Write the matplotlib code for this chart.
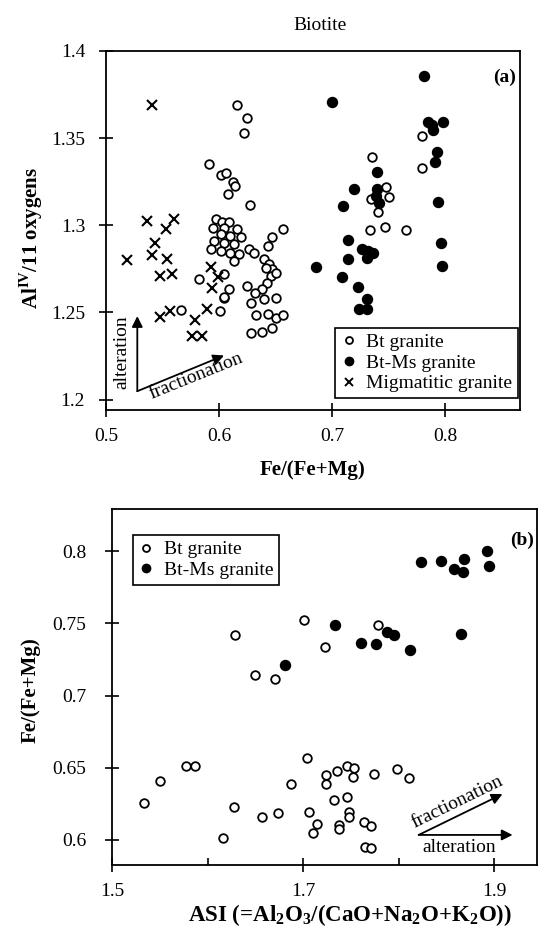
import numpy as np
import matplotlib
matplotlib.use("Agg")
import matplotlib.pyplot as plt
from matplotlib.lines import Line2D

plt.rcParams['font.family'] = ['Liberation Serif', 'DejaVu Serif']
plt.rcParams['mathtext.fontset'] = 'custom'
plt.rcParams['mathtext.rm'] = 'Liberation Serif'
plt.rcParams['mathtext.bf'] = 'Liberation Serif:bold'

# ---- panel (a): biotite AlIV vs Fe/(Fe+Mg)
bt_a_x = [0.616, 0.6245, 0.622, 0.591, 0.602, 0.606, 0.6127, 0.614, 0.608, 0.627,
          0.597, 0.603, 0.609, 0.5947, 0.6044, 0.616, 0.6014, 0.610, 0.619, 0.5956,
          0.6044, 0.613, 0.5926, 0.6014, 0.610, 0.6265, 0.631, 0.6177, 0.613,
          0.647, 0.6566, 0.6435, 0.6398, 0.644, 0.647, 0.6413, 0.6457, 0.650, 0.6428,
          0.638, 0.632, 0.625, 0.628, 0.6398, 0.650, 0.633, 0.6436, 0.6507, 0.6566,
          0.628, 0.6383, 0.6465, 0.6006, 0.582, 0.6088, 0.6044, 0.566, 0.6044, 0.604,
          0.7793, 0.735, 0.7793, 0.7474, 0.7504, 0.7342, 0.7407, 0.7333, 0.7466, 0.7652]
bt_a_y = [1.369, 1.3615, 1.353, 1.335, 1.329, 1.330, 1.325, 1.3226, 1.318, 1.3115,
          1.3034, 1.3016, 1.3016, 1.2987, 1.2987, 1.2977, 1.2948, 1.2939, 1.293, 1.291,
          1.290, 1.289, 1.2862, 1.2853, 1.2843, 1.2862, 1.2843, 1.2833, 1.2795,
          1.2935, 1.298, 1.288, 1.2805, 1.2776, 1.2747, 1.2757, 1.2709, 1.2728, 1.2671,
          1.2632, 1.2613, 1.2651, 1.2555, 1.2575, 1.2584, 1.2483, 1.2493, 1.247, 1.2483,
          1.238, 1.2387, 1.2412, 1.2508, 1.269, 1.2632, 1.2584, 1.2513, 1.2718, 1.259,
          1.3513, 1.3389, 1.3326, 1.322, 1.3163, 1.3153, 1.3077, 1.2971, 1.299, 1.2971]

btms_a_x = [0.7814, 0.6997, 0.7843, 0.7881, 0.7894, 0.7982, 0.7923, 0.7912, 0.7395, 0.7195,
            0.740, 0.7387, 0.7416, 0.7097, 0.7932, 0.7961, 0.7142, 0.7268, 0.732, 0.7357,
            0.7312, 0.7142, 0.6855, 0.7967, 0.709, 0.7224, 0.7312, 0.7239, 0.7312]
btms_a_y = [1.3855, 1.3709, 1.359, 1.3575, 1.3548, 1.3594, 1.3421, 1.3364, 1.3303, 1.3207,
            1.3207, 1.3168, 1.313, 1.3111, 1.3136, 1.29, 1.2914, 1.2866, 1.2852, 1.2843,
            1.2814, 1.2809, 1.276, 1.2766, 1.2705, 1.2648, 1.2575, 1.2521, 1.2521]

mig_x = [0.5404, 0.5366, 0.560, 0.5528, 0.5434, 0.5189, 0.541, 0.5543, 0.548, 0.558,
         0.5926, 0.5994, 0.594, 0.5897, 0.557, 0.548, 0.5785, 0.5757, 0.5846]
mig_y = [1.369, 1.3025, 1.3038, 1.2977, 1.290, 1.280, 1.2828, 1.2805, 1.2709, 1.2718,
         1.276, 1.2705, 1.2638, 1.252, 1.2511, 1.2473, 1.2456, 1.2364, 1.2364]

# ---- panel (b): Fe/(Fe+Mg) vs ASI
bt_b_x = [1.628, 1.649, 1.670, 1.701, 1.7228, 1.778,
          1.577, 1.587, 1.550, 1.533, 1.627, 1.657, 1.674, 1.687, 1.6158,
          1.7042, 1.7236, 1.7236, 1.7358, 1.7457, 1.7534, 1.7516, 1.7744, 1.7983, 1.8105,
          1.7323, 1.7463, 1.7481, 1.7481, 1.7063, 1.7147, 1.7099, 1.7379, 1.7379,
          1.7639, 1.7709, 1.765, 1.7709]
bt_b_y = [0.7419, 0.7142, 0.7112, 0.7522, 0.7338, 0.7488,
          0.6512, 0.6512, 0.641, 0.6258, 0.623, 0.6157, 0.6185, 0.6388, 0.6012,
          0.657, 0.645, 0.6388, 0.648, 0.6512, 0.6496, 0.6434, 0.6457, 0.6494, 0.6427,
          0.6277, 0.63, 0.6196, 0.6161, 0.6196, 0.6109, 0.605, 0.6104, 0.6074,
          0.6122, 0.6099, 0.5954, 0.5943]

btms_b_x = [1.681, 1.7334, 1.7607, 1.7762, 1.7878, 1.7947, 1.8116, 1.8657,
            1.8236, 1.8446, 1.858, 1.867, 1.8684, 1.893, 1.8947]
btms_b_y = [0.7211, 0.7488, 0.7361, 0.7354, 0.7437, 0.7419, 0.7315, 0.7423,
            0.7922, 0.7933, 0.7875, 0.7857, 0.7945, 0.8002, 0.7898]

fig = plt.figure(figsize=(5.39, 9.34), dpi=100)
ax1 = fig.add_axes([0.1966, 0.561, 0.768, 0.3844])
ax2 = fig.add_axes([0.2087, 0.0739, 0.7876, 0.3808])

open_kw = dict(linestyle='none', marker='o', markersize=6.2, markerfacecolor='white',
               markeredgecolor='black', markeredgewidth=1.3)
fill_kw = dict(linestyle='none', marker='o', markersize=7.2, color='black')
x_kw = dict(linestyle='none', marker='x', markersize=7.5, color='black', markeredgewidth=1.5)

ax1.plot(bt_a_x, bt_a_y, **open_kw)
ax1.plot(btms_a_x, btms_a_y, **fill_kw)
ax1.plot(mig_x, mig_y, **x_kw)

ax2.plot(bt_b_x, bt_b_y, **open_kw)
ax2.plot(btms_b_x, btms_b_y, **fill_kw)

ax1.set_xlim(0.5, 0.866)
ax1.set_ylim(1.194, 1.4)
ax1.set_xticks([0.5, 0.6, 0.7, 0.8])
ax1.set_xticklabels(['0.5', '0.6', '0.7', '0.8'])
ax1.set_yticks([1.2, 1.25, 1.3, 1.35, 1.4])
ax1.set_yticklabels(['1.2', '1.25', '1.3', '1.35', '1.4'])

ax2.set_xlim(1.5, 1.945)
ax2.set_ylim(0.5827, 0.8289)
ax2.set_xticks([1.5, 1.7, 1.9])
ax2.set_xticklabels(['1.5', '1.7', '1.9'])
ax2.set_xticks([1.6, 1.8], minor=True)
ax2.set_yticks([0.6, 0.65, 0.7, 0.75, 0.8])
ax2.set_yticklabels(['0.6', '0.65', '0.7', '0.75', '0.8'])

for ax in (ax1, ax2):
    ax.tick_params(axis='both', which='major', direction='inout', length=10, width=1.2,
                   labelsize=14)
    ax.tick_params(axis='x', which='major', pad=8)
    ax.tick_params(axis='x', which='minor', direction='in', length=5, width=1.2)
    for s in ax.spines.values():
        s.set_linewidth(1.3)
ax1.tick_params(axis='y', which='major', pad=10)
ax2.tick_params(axis='y', which='major', pad=14)

# legends
h_open = Line2D([], [], linestyle='none', marker='o', markersize=5, markerfacecolor='white',
                markeredgecolor='black', markeredgewidth=1.3)
h_fill = Line2D([], [], linestyle='none', marker='o', markersize=6, color='black')
h_x = Line2D([], [], linestyle='none', marker='x', markersize=6, color='black', markeredgewidth=1.4)

leg1 = ax1.legend([h_open, h_fill, h_x], ['Bt granite', 'Bt-Ms granite', 'Migmatitic granite'],
                  loc='lower right', bbox_to_anchor=(0.995, 0.033), borderaxespad=0,
                  fancybox=False, edgecolor='black', fontsize=14, handlelength=0.8,
                  handletextpad=0.5, labelspacing=0.15, borderpad=0.3, framealpha=1)
leg1.get_frame().set_linewidth(1.2)

leg2 = ax2.legend([h_open, h_fill], ['Bt granite', 'Bt-Ms granite'],
                  loc='upper left', bbox_to_anchor=(0.0476, 0.928), borderaxespad=0,
                  fancybox=False, edgecolor='black', fontsize=14, handlelength=0.8,
                  handletextpad=0.5, labelspacing=0.15, borderpad=0.3, framealpha=1)
leg2.get_frame().set_linewidth(1.2)

# panel labels
ax1.text(0.99, 0.928, '(a)', transform=ax1.transAxes, ha='right', va='center',
         fontsize=14, fontweight='bold')
ax2.text(0.936, 0.914, '(b)', transform=ax2.transAxes, ha='left', va='center',
         fontsize=14, fontweight='bold')

# arrows panel (a)
arr = dict(arrowstyle='-|>', color='black', lw=1.3, mutation_scale=16, shrinkA=0, shrinkB=0)
ax1.annotate('', xy=(0.5277, 1.2479), xytext=(0.5277, 1.2048), arrowprops=arr)
ax1.annotate('', xy=(0.6044, 1.2253), xytext=(0.5277, 1.2048), arrowprops=arr)
ax1.text(0.5142, 1.227, 'alteration', rotation=90, ha='center', va='center', fontsize=14)
ax1.text(0.5794, 1.2134, 'fractionation', rotation=22, ha='center', va='center', fontsize=14)

# arrows panel (b)
ax2.annotate('', xy=(1.9088, 0.6318), xytext=(1.821, 0.6035), arrowprops=arr)
ax2.annotate('', xy=(1.9194, 0.6035), xytext=(1.821, 0.6035), arrowprops=arr)
ax2.text(1.8615, 0.6265, 'fractionation', rotation=26, ha='center', va='center', fontsize=14)
ax2.text(1.8632, 0.5950, 'alteration', ha='center', va='center', fontsize=14)

# titles and axis labels
fig.text(320 / 539, 1 - 25 / 934, 'Biotite', ha='center', va='center', fontsize=14)
fig.text(31 / 539, 1 - 238 / 934, r'Al$^{\mathbf{IV}}$/11 oxygens', rotation=90,
         ha='center', va='center', fontsize=15, fontweight='bold')
fig.text(312 / 539, 1 - 470 / 934, 'Fe/(Fe+Mg)', ha='center', va='center',
         fontsize=15, fontweight='bold')
fig.text(31 / 539, 1 - 690 / 934, 'Fe/(Fe+Mg)', rotation=90, ha='center', va='center',
         fontsize=15, fontweight='bold')
fig.text(350 / 539, 1 - 915 / 934,
         r'ASI (=Al$_{\mathbf{2}}$O$_{\mathbf{3}}$/(CaO+Na$_{\mathbf{2}}$O+K$_{\mathbf{2}}$O))',
         ha='center', va='center', fontsize=16.5, fontweight='bold')

fig.savefig('out.png', dpi=100)
